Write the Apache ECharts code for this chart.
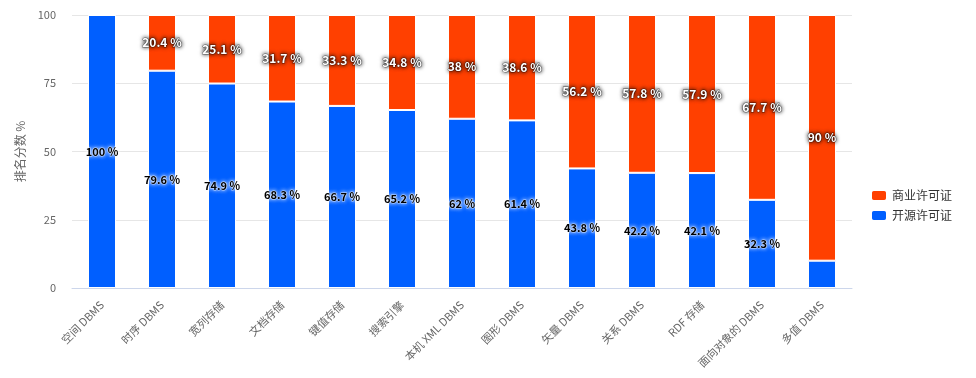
<!DOCTYPE html>
<html><head><meta charset="utf-8">
<script src="https://cdn.jsdelivr.net/npm/echarts@6/dist/echarts.min.js"></script>
<style>html,body{margin:0;padding:0;background:#fff}#c{width:976px;height:378px}</style>
</head><body><div id="c"></div>
<script>
const categories = ['空间 DBMS','时序 DBMS','宽列存储','文档存储','键值存储','搜索引擎','本机 XML DBMS','图形 DBMS','矢量 DBMS','关系 DBMS','RDF 存储','面向对象的 DBMS','多值 DBMS'];
const openSource = [100, 79.6, 74.9, 68.3, 66.7, 65.2, 62, 61.4, 43.8, 42.2, 42.1, 32.3, 10];
const commercial = [0, 20.4, 25.1, 31.7, 33.3, 34.8, 38, 38.6, 56.2, 57.8, 57.9, 67.7, 90];
const yTicks = [0, 25, 50, 75, 100];

const FONT = '"Noto Sans CJK SC","Noto Sans",sans-serif';
const chart = echarts.init(document.getElementById('c'));
chart.setOption({
  animation: false,
  textStyle: {fontFamily: FONT},
  grid: {left: 72, right: 124, top: 15, bottom: 90},
  legend: {
    orient: 'vertical', right: 19, top: 184,
    itemWidth: 16, itemHeight: 11, itemGap: 7,
    textStyle: {fontSize: 12, color: '#333', fontFamily: FONT},
    data: ['商业许可证','开源许可证']
  },
  xAxis: {
    type: 'category', data: categories,
    axisLine: {lineStyle: {color: '#ccd6eb'}},
    axisTick: {lineStyle: {color: '#ccd6eb'}, length: 8},
    axisLabel: {rotate: 45, color: '#666', fontSize: 11, interval: 0, margin: 15}
  },
  yAxis: {
    type: 'value', min: yTicks[0], max: yTicks[yTicks.length-1], interval: 25,
    name: '排名分数 %', nameLocation: 'middle', nameGap: 45, nameRotate: 90,
    nameTextStyle: {color: '#666', fontSize: 12},
    axisLabel: {color: '#666', fontSize: 11, margin: 16},
    splitLine: {lineStyle: {color: '#e6e6e6'}},
    axisLine: {show: false}, axisTick: {show: false}
  },
  series: [
    {
      name: '开源许可证', type: 'bar', stack: 's', barWidth: 28,
      itemStyle: {color: '#005fff', borderColor: '#fff', borderWidth: 1},
      data: openSource.map((v, i) => ({value: v, label: {show: v > 15}})),
      label: {
        show: true, position: 'inside', formatter: '{c} %',
        color: '#000', fontSize: 11, fontWeight: 'bold',
        textBorderColor: 'rgba(255,255,255,0.6)', textBorderWidth: 1,
        textShadowColor: '#fff', textShadowBlur: 4
      }
    },
    {
      name: '商业许可证', type: 'bar', stack: 's', barWidth: 28,
      itemStyle: {color: '#ff4000', borderColor: '#fff', borderWidth: 1},
      data: commercial.map(v => ({value: v, label: {show: v > 0}})),
      label: {
        show: true, position: 'inside', formatter: '{c} %',
        color: '#fff', fontSize: 12, fontWeight: 'bold',
        textBorderColor: 'rgba(0,0,0,0.5)', textBorderWidth: 1,
        textShadowColor: '#000', textShadowBlur: 4
      }
    }
  ]
});
</script></body></html>
